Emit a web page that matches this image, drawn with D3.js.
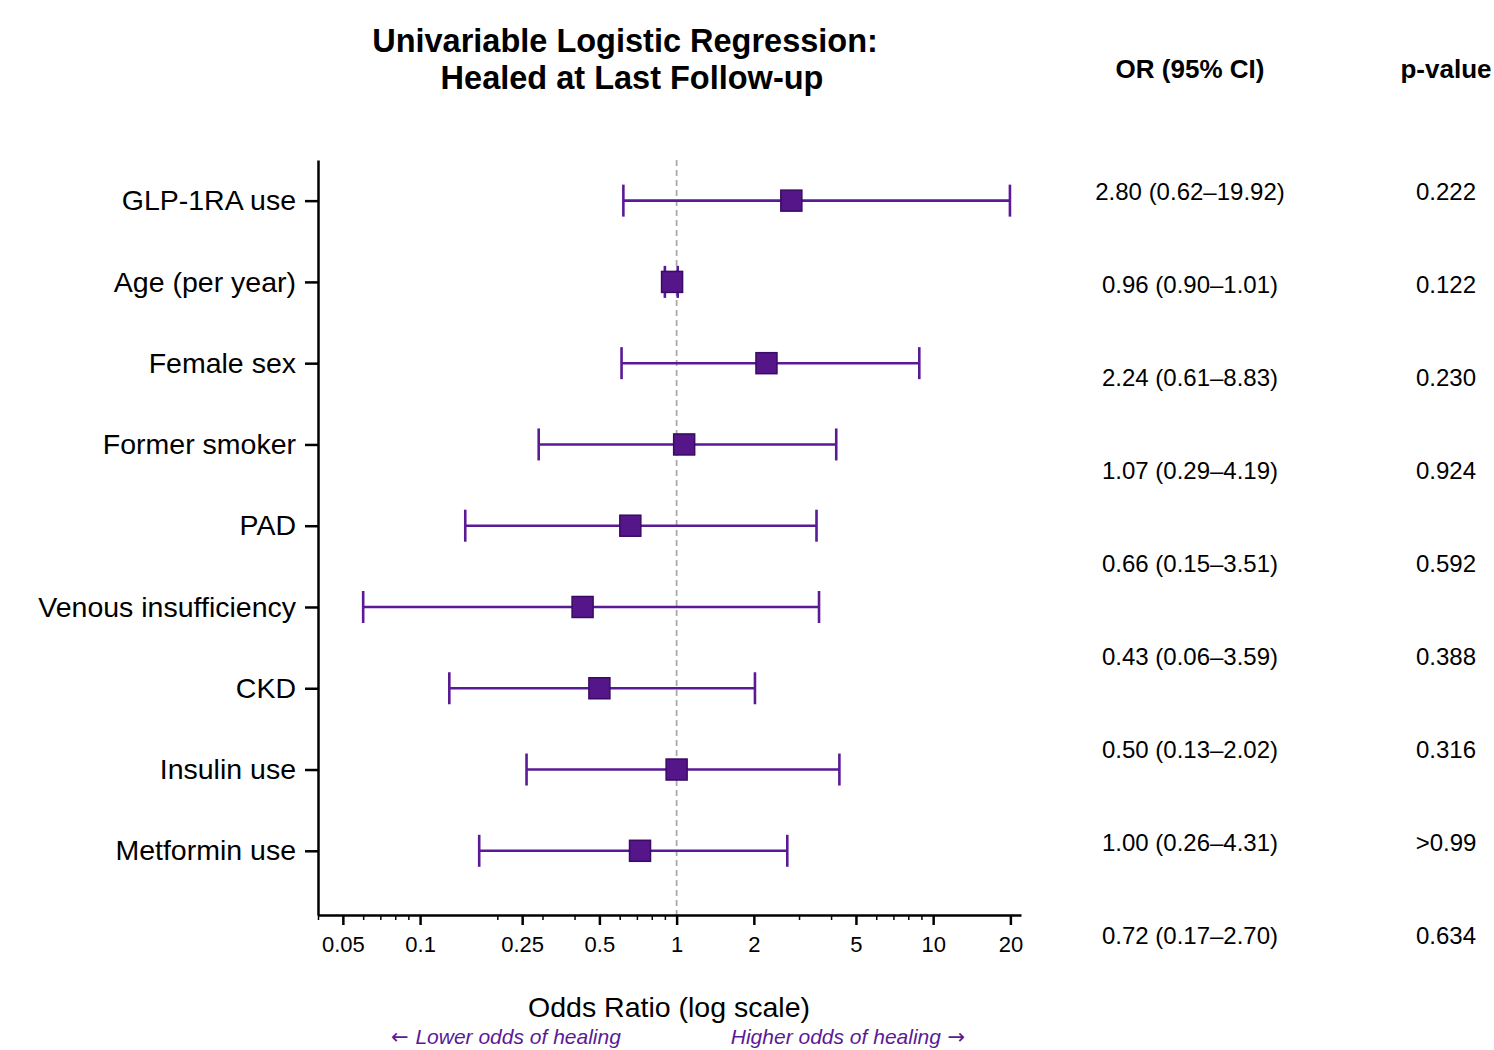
<!DOCTYPE html>
<html>
<head>
<meta charset="utf-8">
<script src="https://cdn.jsdelivr.net/npm/d3@7"></script>
<style>
  body { margin: 0; background: #fff; }
  text { font-family: "Liberation Sans", Arial, Helvetica, sans-serif; }
</style>
</head>
<body>
<div id="chart"></div>
<script>
// row labels, top to bottom
const variables = ["GLP-1RA use", "Age (per year)", "Female sex", "Former smoker", "PAD",
  "Venous insufficiency", "CKD", "Insulin use", "Metformin use"];
const oddsRatio = [2.80, 0.96, 2.24, 1.07, 0.66, 0.43, 0.50, 1.00, 0.72];
const ciLow = [0.62, 0.90, 0.61, 0.29, 0.15, 0.06, 0.13, 0.26, 0.17];
const ciHigh = [19.92, 1.01, 8.83, 4.19, 3.51, 3.59, 2.02, 4.31, 2.70];
const pValues = ["0.222", "0.122", "0.230", "0.924", "0.592", "0.388", "0.316", ">0.99", "0.634"];
const majorTicks = [0.05, 0.1, 0.25, 0.5, 1, 2, 5, 10, 20];
const tickLabels = ["0.05", "0.1", "0.25", "0.5", "1", "2", "5", "10", "20"];

const purple = "#5a1a96";
const markFill = "#55168a";
const markStroke = "#3a0a64";

const width = 1494, height = 1050;
const svg = d3.select("#chart").append("svg")
  .attr("width", width).attr("height", height);

// scales
const x = d3.scaleLog().domain([0.04, 22]).range([318, 1021]);
const y = d3.scaleLinear().domain([-0.5, 8.79]).range([160, 915]);
const tableY = d3.scaleLinear().domain([0, 8]).range([192, 936]);

// title
const title = svg.append("text")
  .attr("y", 52)
  .attr("text-anchor", "middle")
  .style("font-size", "32.5px").style("font-weight", "bold");
title.append("tspan").attr("x", 625).text("Univariable Logistic Regression:");
title.append("tspan").attr("x", 632).attr("dy", 37).text("Healed at Last Follow-up");

// reference line at OR = 1
svg.append("line")
  .attr("x1", x(1)).attr("x2", x(1))
  .attr("y1", 160).attr("y2", 915)
  .attr("stroke", "#aaa").attr("stroke-width", 1.8)
  .attr("stroke-dasharray", "6,4");

// minor ticks: every k*10^n in the domain not already a major tick
const minorTicks = [];
[0.01, 0.1, 1, 10].forEach(function (p) {
  for (let k = 1; k <= 9; k++) {
    const v = +(k * p).toPrecision(3);
    if (v >= 0.04 && v <= 22 && majorTicks.indexOf(v) < 0) minorTicks.push(v);
  }
});

svg.append("g")
  .attr("transform", "translate(0,915)")
  .call(d3.axisBottom(x).tickValues(minorTicks).tickSize(5).tickFormat(""))
  .call(g => g.select(".domain").remove())
  .call(g => g.selectAll("line").attr("stroke", "#000").attr("stroke-width", 1.5));

const xAxis = svg.append("g")
  .attr("transform", "translate(0,915)")
  .call(d3.axisBottom(x).tickValues(majorTicks).tickSize(10).tickSizeOuter(0).tickPadding(11)
    .tickFormat((d, i) => tickLabels[i]));
xAxis.select(".domain").attr("stroke", "#000").attr("stroke-width", 2.5);
xAxis.selectAll("line").attr("stroke", "#000").attr("stroke-width", 2.5);
xAxis.selectAll("text").style("font-size", "22px").attr("fill", "#000");

const yAxis = svg.append("g")
  .attr("transform", "translate(318,0)")
  .call(d3.axisLeft(y).tickValues(d3.range(variables.length)).tickSize(13).tickSizeOuter(0)
    .tickPadding(9).tickFormat(i => variables[i]));
yAxis.select(".domain").attr("stroke", "#000").attr("stroke-width", 2.5);
yAxis.selectAll("line").attr("stroke", "#000").attr("stroke-width", 2.5);
yAxis.selectAll("text").style("font-size", "28.5px").attr("fill", "#000");

// whiskers
const rows = svg.append("g").selectAll("g")
  .data(variables).enter().append("g");
rows.append("line")
  .attr("x1", (d, i) => x(ciLow[i])).attr("x2", (d, i) => x(ciHigh[i]))
  .attr("y1", (d, i) => y(i)).attr("y2", (d, i) => y(i))
  .attr("stroke", purple).attr("stroke-width", 2.6);
[ciLow, ciHigh].forEach(function (arr) {
  rows.append("line")
    .attr("x1", (d, i) => x(arr[i])).attr("x2", (d, i) => x(arr[i]))
    .attr("y1", (d, i) => y(i) - 16).attr("y2", (d, i) => y(i) + 16)
    .attr("stroke", purple).attr("stroke-width", 2.6);
});
rows.append("rect")
  .attr("x", (d, i) => x(oddsRatio[i]) - 10.5).attr("y", (d, i) => y(i) - 10.5)
  .attr("width", 21).attr("height", 21)
  .attr("fill", markFill).attr("stroke", markStroke).attr("stroke-width", 1.5);

// axis label and direction notes
svg.append("text").attr("x", 669).attr("y", 1017).attr("text-anchor", "middle")
  .style("font-size", "28.5px").text("Odds Ratio (log scale)");
const lowNote = svg.append("text").attr("x", 506).attr("y", 1044).attr("text-anchor", "middle")
  .style("font-size", "21px").style("font-style", "italic").attr("fill", purple);
lowNote.append("tspan").style("font-family", "DejaVu Sans").style("font-style", "normal").text("\u2190 ");
lowNote.append("tspan").text("Lower odds of healing");
const highNote = svg.append("text").attr("x", 848).attr("y", 1044).attr("text-anchor", "middle")
  .style("font-size", "21px").style("font-style", "italic").attr("fill", purple);
highNote.append("tspan").text("Higher odds of healing");
highNote.append("tspan").style("font-family", "DejaVu Sans").style("font-style", "normal").text(" \u2192");

// table columns
svg.append("text").attr("x", 1190).attr("y", 78).attr("text-anchor", "middle")
  .style("font-size", "26px").style("font-weight", "bold").text("OR (95% CI)");
svg.append("text").attr("x", 1446).attr("y", 78).attr("text-anchor", "middle")
  .style("font-size", "26px").style("font-weight", "bold").text("p-value");

const fmt = d3.format(".2f");
svg.append("g").selectAll("text").data(variables).enter().append("text")
  .attr("x", 1190).attr("y", (d, i) => tableY(i)).attr("dy", "0.35em")
  .attr("text-anchor", "middle").style("font-size", "24px")
  .text((d, i) => `${fmt(oddsRatio[i])} (${fmt(ciLow[i])}\u2013${fmt(ciHigh[i])})`);
svg.append("g").selectAll("text").data(pValues).enter().append("text")
  .attr("x", 1446).attr("y", (d, i) => tableY(i)).attr("dy", "0.35em")
  .attr("text-anchor", "middle").style("font-size", "24px")
  .text(d => d);
</script>
</body>
</html>
